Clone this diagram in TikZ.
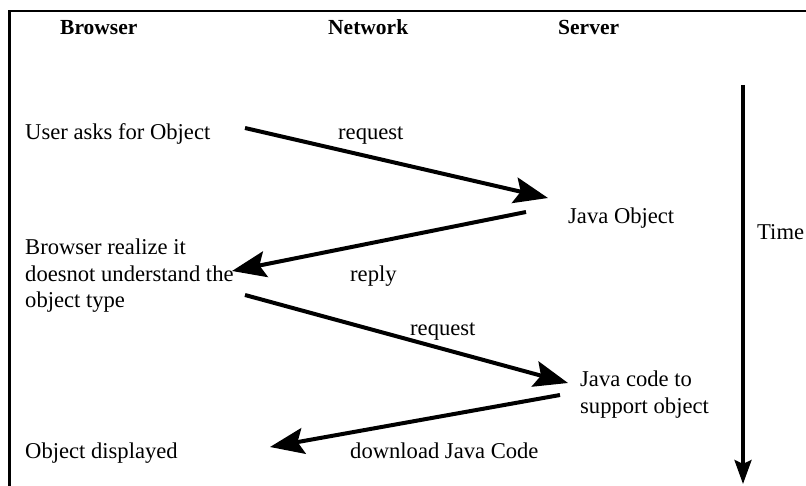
\documentclass[tikz,border=0pt]{standalone}
\usepackage{fontspec}
\setmainfont{Liberation Serif}
\usetikzlibrary{arrows.meta}
\begin{document}
\begin{tikzpicture}[x=1pt,y=-1pt,
  txt/.style={anchor=base west,inner sep=0pt,font=\fontsize{22.6}{26.5}\selectfont,align=left},
  hdr/.style={anchor=base west,inner sep=0pt,font=\fontsize{21.5}{25}\selectfont\bfseries},
  msg/.style={line width=4pt,-{Stealth[length=34pt,width=26pt,inset=6pt]}},
  timeline/.style={line width=3.5pt,-{Stealth[length=24pt,width=17pt,inset=4pt]}},
  frame/.style={line width=2.5pt}]
\useasboundingbox (0,0) rectangle (806,486);
\fill[white] (0,0) rectangle (806,486);
% frame
\coordinate (ftr) at (806,11);
\coordinate (ftl) at (9.5,11);
\coordinate (fbl) at (9.5,486);
\draw[frame] (ftr) -- (ftl) -- (fbl);
% headers
\node[hdr] (hB) at (60,35) {Browser};
\node[hdr] (hN) at (328,35) {Network};
\node[hdr] (hS) at (558,35) {Server};
% texts
\node[txt] (t1) at (25,140) {User asks for Object};
\node[txt] (l1) at (338,140) {request};
\node[txt] (t2) at (568,224) {Java Object};
\node[txt] (t3) at (25,308) {Browser realize it\\doesnot understand the\\object type};
\node[txt] (l2) at (350,282) {reply};
\node[txt] (l3) at (410,335) {request};
\node[txt] (t4) at (580,413) {Java code to\\support object};
\node[txt] (t5) at (25,458) {Object displayed};
\node[txt] (l4) at (350,458) {download Java Code};
\node[txt] (tt) at (757,240) {Time};
% arrow end points
\coordinate (a1s) at (245,128);
\coordinate (a1e) at (548,198);
\coordinate (a2s) at (526,212);
\coordinate (a2e) at (232,271);
\coordinate (a3s) at (245,295);
\coordinate (a3e) at (568,383);
\coordinate (a4s) at (560,395);
\coordinate (a4e) at (270,447);
\coordinate (ts) at (743,85);
\coordinate (te) at (743,484);
\draw[msg] (a1s) -- (a1e);
\draw[msg] (a2s) -- (a2e);
\draw[msg] (a3s) -- (a3e);
\draw[msg] (a4s) -- (a4e);
\draw[timeline] (ts) -- (te);
\end{tikzpicture}
\end{document}
